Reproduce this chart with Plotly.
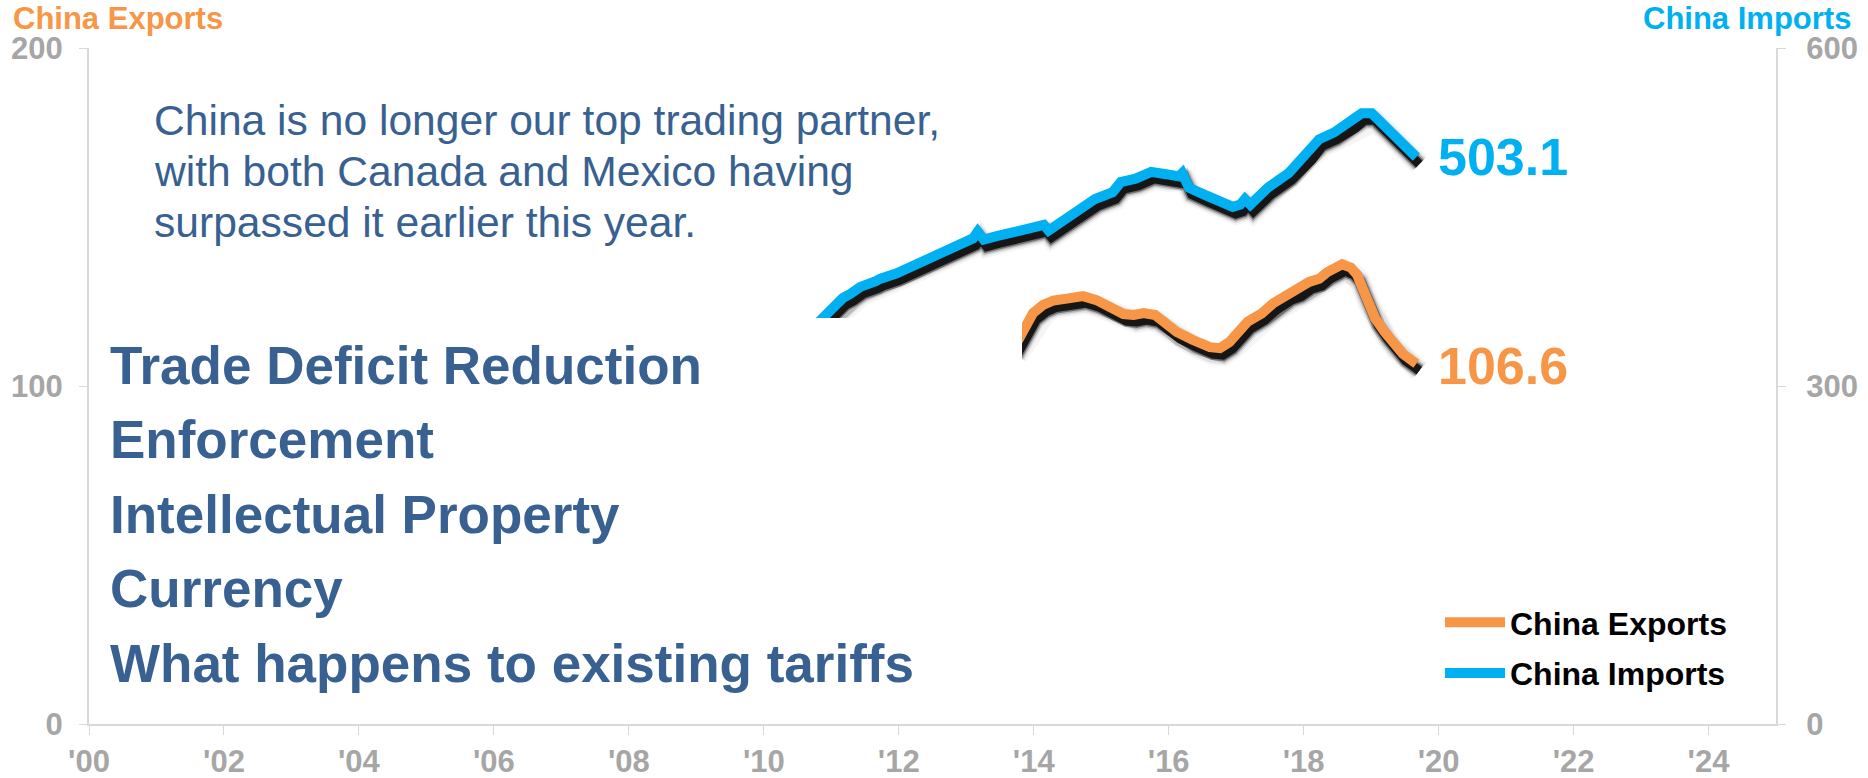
import plotly.graph_objects as go

# ---- data -------------------------------------------------------------
year_ticks = [2000, 2002, 2004, 2006, 2008, 2010, 2012, 2014, 2016, 2018, 2020, 2022, 2024]
year_tick_text = ["'00", "'02", "'04", "'06", "'08", "'10", "'12", "'14", "'16", "'18", "'20", "'22", "'24"]

exports_ticks = [0, 100, 200]
imports_ticks = [0, 300, 600]

# US exports to China, 12-month total ($bn)
exports_years = [2013.70, 2013.83, 2013.99, 2014.14, 2014.29, 2014.54, 2014.73, 2014.93, 2015.13,
                 2015.33, 2015.48, 2015.63, 2015.80, 2015.97, 2016.12, 2016.36, 2016.61, 2016.76,
                 2016.90, 2017.17, 2017.38, 2017.55, 2017.78, 2017.92, 2018.08, 2018.23, 2018.35,
                 2018.57, 2018.70, 2018.79, 2018.93, 2019.06, 2019.20, 2019.32, 2019.47, 2019.67]
exports_values = [111.0, 115.7, 121.6, 124.0, 125.3, 126.0, 126.6, 125.4, 123.4,
                  121.3, 121.0, 121.6, 121.0, 118.6, 116.0, 113.6, 111.5, 111.2,
                  113.0, 119.0, 121.5, 124.5, 127.5, 128.5, 130.8, 131.7, 133.7,
                  136.0, 135.0, 133.0, 126.0, 120.0, 116.0, 113.0, 109.5, 106.6]

# US imports from China, 12-month total ($bn)
imports_years = [2010.70, 2010.88, 2011.05, 2011.17, 2011.29, 2011.43, 2011.66, 2011.72, 2011.97,
                 2012.12, 2012.27, 2012.49, 2012.65, 2012.80, 2013.01, 2013.10, 2013.17, 2013.26,
                 2013.45, 2013.65, 2013.86, 2014.03, 2014.15, 2014.22, 2014.40, 2014.61, 2014.91,
                 2015.17, 2015.29, 2015.51, 2015.74, 2015.96, 2016.15, 2016.20, 2016.30, 2016.56,
                 2016.79, 2016.95, 2017.06, 2017.13, 2017.21, 2017.47, 2017.78, 2018.08, 2018.23,
                 2018.45, 2018.72, 2018.86, 2019.01, 2019.17, 2019.32, 2019.47, 2019.67]
imports_values = [350, 361, 371, 378, 382, 388, 393, 395, 400,
                  404, 409, 415, 419, 422, 428, 431, 437, 430,
                  433, 436, 439, 441, 443, 438, 446, 454, 466,
                  472, 481, 484, 490, 488, 486, 489, 476, 469,
                  462, 459, 461, 466, 461, 476, 489, 507, 519,
                  525, 535, 542, 542, 533, 522, 514, 503.1]

headline_lines = [
    "China is no longer our top trading partner,",
    "with both Canada and Mexico having",
    "surpassed it earlier this year.",
]
topic_lines = [
    "Trade Deficit Reduction",
    "Enforcement",
    "Intellectual Property",
    "Currency",
    "What happens to existing tariffs",
]

# ---- styling ----------------------------------------------------------
ORANGE = "#F79646"
BLUE = "#00B0F0"
TEXT_BLUE = "#386192"
GRAY = "#A6A6A6"
AXIS_GRAY = "#D9D9D9"
FONT = "Arial, 'Liberation Sans', sans-serif"

W, H = 1868, 778
ML, MR, MT, MB = 89, 92, 48, 54
PW, PH = W - ML - MR, H - MT - MB

X_RANGE = [2000, 2025]
EXP_RANGE = [0, 200]
IMP_RANGE = [0, 600]


def px_x(px):
    return (px - ML) / PW


def px_y(py):
    return (H - MB - py) / PH


# drop shadow offset (px), converted to axis units
SHADOW_DX, SHADOW_DY = 3, 7
dx_u = SHADOW_DX * (X_RANGE[1] - X_RANGE[0]) / PW
dy_exp = SHADOW_DY * (EXP_RANGE[1] - EXP_RANGE[0]) / PH
dy_imp = SHADOW_DY * (IMP_RANGE[1] - IMP_RANGE[0]) / PH

fig = go.Figure()

# soft shadows underneath the two series
shadow_layers = [(22, 0.04), (18, 0.08), (15, 0.18), (12, 0.4), (9, 0.8)]
for width, alpha in shadow_layers:
    fig.add_trace(go.Scatter(x=exports_years, y=exports_values, mode="lines",
                             line=dict(color=f"rgba(0,0,0,{alpha})", width=width),
                             xaxis="x", yaxis="y", showlegend=False, hoverinfo="skip"))
for width, alpha in shadow_layers:
    fig.add_trace(go.Scatter(x=imports_years, y=imports_values, mode="lines",
                             line=dict(color=f"rgba(0,0,0,{alpha})", width=width),
                             xaxis="x", yaxis="y2", showlegend=False, hoverinfo="skip"))

fig.add_trace(go.Scatter(x=exports_years, y=exports_values, mode="lines", name="China Exports",
                         legendgroup="exp", line=dict(color=ORANGE, width=10),
                         xaxis="x2", yaxis="y3"))
fig.add_trace(go.Scatter(x=imports_years, y=imports_values, mode="lines", name="China Imports",
                         legendgroup="imp", line=dict(color=BLUE, width=10),
                         xaxis="x2", yaxis="y4"))

tick_font = dict(family=FONT, size=31, color=GRAY, weight="bold")

fig.update_layout(
    width=W, height=H,
    margin=dict(l=ML, r=MR, t=MT, b=MB, autoexpand=False),
    paper_bgcolor="white", plot_bgcolor="white",
    showlegend=True,
    legend=dict(x=px_x(1440), y=px_y(595), xanchor="left", yanchor="top",
                font=dict(family=FONT, size=32, color="black", weight="bold"),
                bgcolor="rgba(0,0,0,0)", itemwidth=60, tracegroupgap=6),
    # offset axes that carry the shadows
    xaxis=dict(range=[X_RANGE[0] - dx_u, X_RANGE[1] - dx_u], visible=False),
    yaxis=dict(range=[EXP_RANGE[0] + dy_exp, EXP_RANGE[1] + dy_exp], visible=False),
    yaxis2=dict(range=[IMP_RANGE[0] + dy_imp, IMP_RANGE[1] + dy_imp], visible=False,
                overlaying="y"),
    # visible axes
    xaxis2=dict(range=X_RANGE, overlaying="x", anchor="y3", side="bottom",
                tickvals=year_ticks, ticktext=year_tick_text, tickfont=tick_font,
                showgrid=False, zeroline=False, showline=True, linecolor=AXIS_GRAY, linewidth=2,
                ticks="outside", ticklen=9, tickwidth=1, tickcolor=AXIS_GRAY,
                ticklabelstandoff=0, automargin=False),
    yaxis3=dict(range=EXP_RANGE, overlaying="y", anchor="x2", side="left",
                tickvals=exports_ticks, tickfont=tick_font,
                showgrid=False, zeroline=False, showline=True, linecolor=AXIS_GRAY, linewidth=2,
                ticks="outside", ticklen=8, tickwidth=1, tickcolor=AXIS_GRAY,
                ticklabelstandoff=10, automargin=False),
    yaxis4=dict(range=IMP_RANGE, overlaying="y", anchor="x2", side="right",
                tickvals=imports_ticks, tickfont=tick_font,
                showgrid=False, zeroline=False, showline=True, linecolor=AXIS_GRAY, linewidth=2,
                ticks="outside", ticklen=8, tickwidth=1, tickcolor=AXIS_GRAY,
                ticklabelstandoff=14, automargin=False),
)

# white panel behind the talking points
fig.add_shape(type="rect", xref="paper", yref="paper",
              x0=px_x(92), x1=px_x(1022), y0=px_y(718), y1=px_y(318),
              fillcolor="white", line=dict(width=0), layer="above")

annotations = []
# axis titles
annotations.append(dict(text="China Exports", xref="paper", yref="paper",
                        x=px_x(11), y=px_y(18), xanchor="left", yanchor="middle",
                        showarrow=False, font=dict(family=FONT, size=31, color=ORANGE, weight="bold")))
annotations.append(dict(text="China Imports", xref="paper", yref="paper",
                        x=px_x(1853), y=px_y(18), xanchor="right", yanchor="middle",
                        showarrow=False, font=dict(family=FONT, size=31, color=BLUE, weight="bold")))

# end-of-line value labels
annotations.append(dict(text=f"{imports_values[-1]:.1f}", xref="x2", yref="y4",
                        x=imports_years[-1], y=imports_values[-1], xanchor="left", yanchor="middle",
                        xshift=20, yshift=0, showarrow=False,
                        font=dict(family=FONT, size=52, color=BLUE, weight="bold")))
annotations.append(dict(text=f"{exports_values[-1]:.1f}", xref="x2", yref="y3",
                        x=exports_years[-1], y=exports_values[-1], xanchor="left", yanchor="middle",
                        xshift=20, yshift=-2, showarrow=False,
                        font=dict(family=FONT, size=52, color=ORANGE, weight="bold")))

# headline
for i, line in enumerate(headline_lines):
    baseline = 135 + 51 * i
    annotations.append(dict(text=line, xref="paper", yref="paper",
                            x=px_x(152), y=px_y(baseline - 0.35 * 42.6),
                            xanchor="left", yanchor="middle", showarrow=False,
                            font=dict(family=FONT, size=42.6, color=TEXT_BLUE)))

# talking points
for i, line in enumerate(topic_lines):
    baseline = 384 + 74.5 * i
    annotations.append(dict(text=line, xref="paper", yref="paper",
                            x=px_x(108), y=px_y(baseline - 0.35 * 53),
                            xanchor="left", yanchor="middle", showarrow=False,
                            font=dict(family=FONT, size=53, color=TEXT_BLUE, weight="bold")))

fig.update_layout(annotations=annotations)

fig.write_html("out.html")
